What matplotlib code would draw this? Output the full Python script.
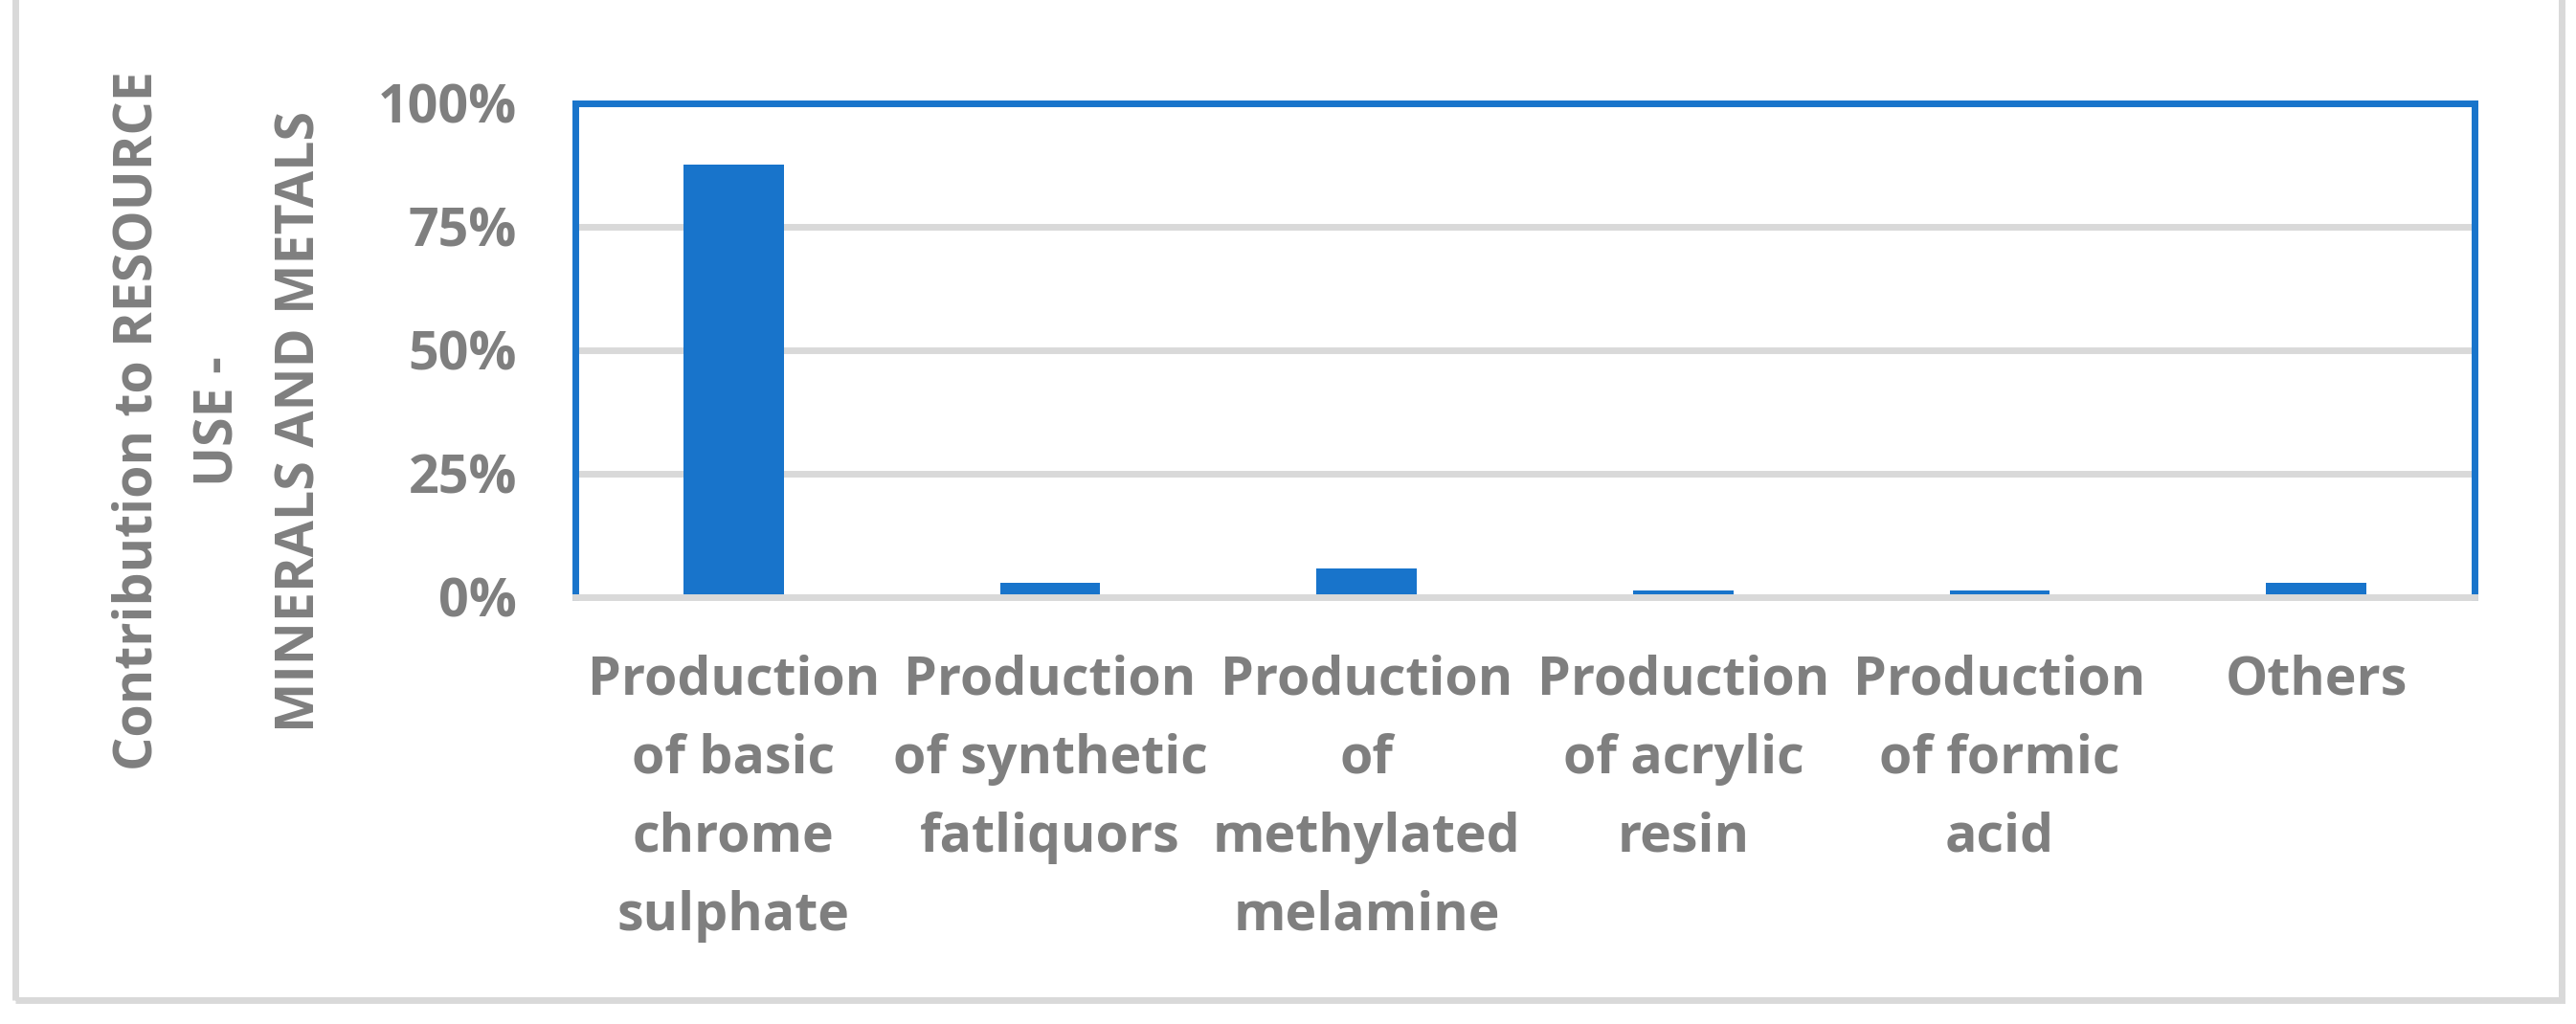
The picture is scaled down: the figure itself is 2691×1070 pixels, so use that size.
import matplotlib
matplotlib.use("Agg")
import matplotlib.pyplot as plt
from matplotlib.patches import Rectangle

categories = [
    "Production\nof basic\nchrome\nsulphate",
    "Production\nof synthetic\nfatliquors",
    "Production\nof\nmethylated\nmelamine",
    "Production\nof acrylic\nresin",
    "Production\nof formic\nacid",
    "Others",
]
shares = [0.875, 0.028, 0.057, 0.012, 0.012, 0.028]
yticks = [0, 0.25, 0.5, 0.75, 1.0]
ytick_labels = ["0%", "25%", "50%", "75%", "100%"]

W, H = 2691, 1070
BLUE = "#1874CB"
GREY_TXT = "#7F7F7F"
GREY_LN = "#D9D9D9"
FONT = "Open Sans"

fig = plt.figure(figsize=(W / 100, H / 100), dpi=100)
ax = fig.add_axes([601 / W, (H - 623.5) / H, (2585 - 601) / W, (623.5 - 107.5) / H])

x = range(len(categories))
ax.bar(x, shares, width=0.317, color=BLUE, zorder=2)
ax.set_xlim(-0.5, len(categories) - 0.5)
ax.set_ylim(0, 1)

ax.set_yticks(yticks)
ax.set_yticklabels(ytick_labels)
ax.set_xticks(list(x))
ax.set_xticklabels(categories, linespacing=1.64)
for lab in ax.get_yticklabels():
    lab.set_fontfamily(FONT); lab.set_fontweight("bold"); lab.set_fontsize(40)
for lab in ax.get_xticklabels():
    lab.set_fontfamily(FONT); lab.set_fontweight("bold"); lab.set_fontsize(40)
ax.tick_params(axis="y", length=0, pad=44, colors=GREY_TXT)
ax.tick_params(axis="x", length=0, pad=43.5, colors=GREY_TXT)

ax.yaxis.grid(True, color=GREY_LN, lw=5)
ax.set_axisbelow(True)
ax.axhline(0, color=GREY_LN, lw=5, zorder=3, clip_on=False)

for s in ("left", "top", "right"):
    ax.spines[s].set_color(BLUE)
    ax.spines[s].set_linewidth(5)
ax.spines["bottom"].set_visible(False)

fig.text(229 / W, (H - 440) / H,
         "Contribution to RESOURCE\nUSE -\nMINERALS AND METALS",
         rotation=90, ha="center", va="center", multialignment="center",
         fontsize=40, fontweight="bold", family=FONT, color=GREY_TXT,
         linespacing=1.72)

# outer chart border (top edge falls outside the picture)
fig.patches.append(Rectangle((16 / W, (H - 1045) / H), (2676 - 16) / W, 1.1,
                             transform=fig.transFigure, fill=False,
                             edgecolor=GREY_LN, lw=5))

fig.savefig("out.png", dpi=100)
